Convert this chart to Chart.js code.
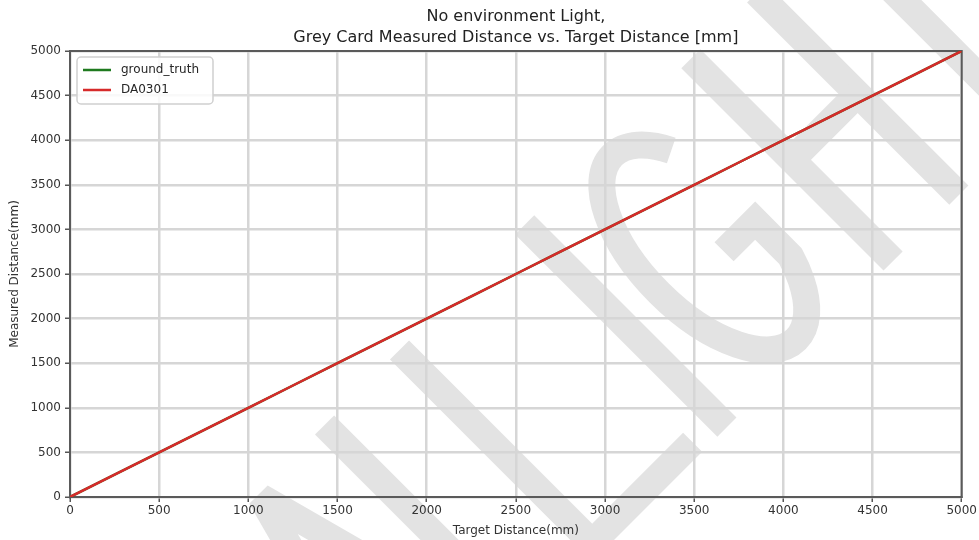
<!DOCTYPE html>
<html>
<head>
<meta charset="utf-8">
<title>Grey Card Measured Distance vs. Target Distance</title>
<script src="https://cdn.jsdelivr.net/npm/chart.js@4.4.0/dist/chart.umd.min.js"></script>
<style>
  html, body { margin: 0; padding: 0; background: #fff; }
  #wrap { width: 979px; height: 540px; position: relative; }
</style>
</head>
<body>
<div id="wrap"><canvas id="distChart"></canvas></div>
<script>
// target distances (mm)
const targetDistance = [0, 250, 500, 750, 1000, 1250, 1500, 1750, 2000, 2250, 2500,
                        2750, 3000, 3250, 3500, 3750, 4000, 4250, 4500, 4750, 5000];
const groundTruth    = [0, 250, 500, 750, 1000, 1250, 1500, 1750, 2000, 2250, 2500,
                        2750, 3000, 3250, 3500, 3750, 4000, 4250, 4500, 4750, 5000];
const da0301         = [0, 250, 500, 750, 1000, 1250, 1500, 1750, 2000, 2250, 2500,
                        2750, 3000, 3250, 3500, 3750, 4000, 4250, 4500, 4750, 5000];

const seriesNames = ['ground_truth', 'DA0301'];
const titleLines = ['No environment Light,', 'Grey Card Measured Distance vs. Target Distance [mm]'];
const xTitle = 'Target Distance(mm)';
const yTitle = 'Measured Distance(mm)';
const axisMin = 0, axisMax = 5000, axisStep = 500;

const FONT = '"DejaVu Sans", sans-serif';

function points(xs, ys) {
  return xs.map((x, i) => ({ x: x, y: ys[i] }));
}

// big grey watermark letters, drawn in a 45deg rotated frame
const watermark = {
  id: 'watermark',
  beforeDraw(chart) {
    const ctx = chart.ctx;
    ctx.save();
    ctx.fillStyle = '#fff';
    ctx.fillRect(0, 0, chart.width, chart.height);
    const r = Math.SQRT1_2;
    ctx.transform(r, -r, r, r, 0, 0);
    ctx.strokeStyle = '#e3e3e3';
    ctx.lineWidth = 27;
    ctx.lineCap = 'butt';
    ctx.lineJoin = 'miter';
    const top = 530, base = 816;
    const line = (pts, join) => {
      ctx.lineJoin = join || 'miter';
      ctx.beginPath();
      pts.forEach((p, i) => i ? ctx.lineTo(p[0], p[1]) : ctx.moveTo(p[0], p[1]));
      ctx.stroke();
    };
    // A
    line([[-242, base], [-167, top + 6], [-92, base]], 'bevel');
    // I
    line([[-71, top], [-71, base]]);
    // L
    line([[35, top], [35, base - 13.5], [177, base - 13.5]]);
    // I
    line([[212, top], [212, base]]);
    // G
    ctx.beginPath();
    ctx.ellipse(323, 673, 64, 130, 0, -Math.PI / 4, 31 * Math.PI / 180, true);
    ctx.lineTo(378, 690);
    ctx.lineTo(334, 690);
    ctx.stroke();
    // H
    line([[447, top], [447, base]]);
    line([[540, top], [540, base]]);
    line([[447, 673], [540, 673]]);
    // T
    line([[638, top + 13], [638, base]]);
    line([[575, top + 13.5], [700, top + 13.5]]);
    ctx.restore();

    // title
    const a = chart.chartArea;
    ctx.save();
    ctx.fillStyle = '#222';
    ctx.font = '16px ' + FONT;
    ctx.textAlign = 'center';
    ctx.textBaseline = 'middle';
    const cx = (a.left + a.right) / 2;
    ctx.fillText(titleLines[0], cx, 17);
    ctx.fillText(titleLines[1], cx, 38);
    ctx.restore();
  }
};

// matplotlib style spines round the plot
const frame = {
  id: 'frame',
  beforeDatasetsDraw(chart) {
    const a = chart.chartArea, ctx = chart.ctx;
    ctx.save();
    ctx.strokeStyle = '#5a5a5a';
    ctx.lineWidth = 2;
    ctx.strokeRect(a.left, a.top, a.right - a.left, a.bottom - a.top);
    ctx.restore();
  }
};

const legendBox = {
  id: 'legendBox',
  afterDatasetsDraw(chart) {
    const a = chart.chartArea, ctx = chart.ctx;
    const x = a.left + 7, y = a.top + 6, w = 136, h = 47;
    ctx.save();
    ctx.fillStyle = 'rgba(255,255,255,0.85)';
    ctx.strokeStyle = '#d0d0d0';
    ctx.lineWidth = 1.5;
    ctx.beginPath();
    ctx.roundRect(x, y, w, h, 4);
    ctx.fill();
    ctx.stroke();
    ctx.font = '12px ' + FONT;
    ctx.textBaseline = 'middle';
    chart.data.datasets.forEach((ds, i) => {
      const ly = y + 13 + i * 20;
      ctx.strokeStyle = ds.borderColor;
      ctx.lineWidth = 2.5;
      ctx.beginPath();
      ctx.moveTo(x + 6, ly);
      ctx.lineTo(x + 34, ly);
      ctx.stroke();
      ctx.fillStyle = '#262626';
      ctx.fillText(ds.label, x + 44, ly);
    });
    ctx.restore();
  }
};

const tickLabel = v => String(v);

const ctx = document.getElementById('distChart');
new Chart(ctx, {
  type: 'line',
  data: {
    datasets: [
      {
        label: seriesNames[0],
        data: points(targetDistance, groundTruth),
        borderColor: '#1f7a1f',
        borderWidth: 2.5,
        pointRadius: 0,
        tension: 0,
        order: 2
      },
      {
        label: seriesNames[1],
        data: points(targetDistance, da0301),
        borderColor: '#d62a2a',
        borderWidth: 2.5,
        pointRadius: 0,
        tension: 0,
        order: 1
      }
    ]
  },
  options: {
    responsive: true,
    maintainAspectRatio: false,
    animation: false,
    layout: { padding: { top: 51, right: 16, bottom: 0, left: 0 } },
    plugins: {
      legend: { display: false },
      title: { display: false },
      tooltip: { enabled: false }
    },
    scales: {
      x: {
        type: 'linear',
        min: axisMin,
        max: axisMax,
        afterFit(scale) { scale.height = 43; },
        ticks: { stepSize: axisStep, callback: tickLabel, color: '#333', font: { family: FONT, size: 12 }, padding: 2, maxRotation: 0 },
        grid: { color: '#d6d6d6', lineWidth: 2.5, tickLength: 5, tickColor: '#555', tickWidth: 1.5 },
        border: { display: true, color: '#5a5a5a', width: 2 },
        title: { display: true, text: xTitle, color: '#333', font: { family: FONT, size: 12 }, padding: { top: 0, bottom: 2 } }
      },
      y: {
        type: 'linear',
        min: axisMin,
        max: axisMax,
        afterFit(scale) { scale.width = 70; },
        ticks: { stepSize: axisStep, callback: tickLabel, color: '#333', font: { family: FONT, size: 12 }, padding: 4 },
        grid: { color: '#d6d6d6', lineWidth: 2.5, tickLength: 5, tickColor: '#555', tickWidth: 1.5 },
        border: { display: true, color: '#5a5a5a', width: 2 },
        title: { display: true, text: yTitle, color: '#333', font: { family: FONT, size: 12 }, padding: { top: 8, bottom: 0 } }
      }
    }
  },
  plugins: [watermark, frame, legendBox]
});
</script>
</body>
</html>
